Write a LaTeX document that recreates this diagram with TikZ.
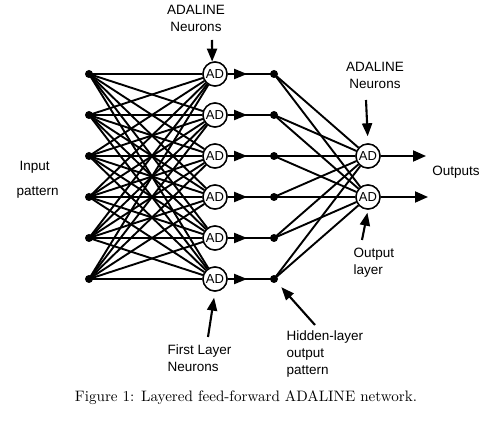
\documentclass[tikz,border=0pt]{standalone}
\usepackage{fontspec}
\newfontfamily\lab{Liberation Sans}
\usetikzlibrary{arrows.meta,decorations.markings}
\begin{document}
\begin{tikzpicture}[x=1pt,y=-1pt,
  conn/.style={line width=1.9pt},
  dotnode/.style={circle,fill=black,inner sep=0pt,minimum size=8pt},
  adnode/.style={circle,draw,line width=1.4pt,fill=white,inner sep=0pt,minimum size=24pt,font=\lab\fontsize{13}{14}\selectfont},
  lbl/.style={font=\lab\fontsize{13.5}{17}\selectfont},
  pointer/.style={line width=2.1pt,-{Triangle[length=13pt,width=10pt]}},
  midarrow/.style={line width=1.9pt,postaction={decorate},decoration={markings,mark=at position 0.42 with {\arrow{Triangle[length=13pt,width=10pt]}}}},
  outarrow/.style={line width=1.9pt,-{Triangle[length=13pt,width=11pt]}}]
\useasboundingbox (0,0) rectangle (490,422);
\foreach \k/\y in {1/74,2/115,3/156,4/197,5/238,6/279}{
  \node[dotnode] (i\k) at (89,\y) {};
  \node[dotnode] (h\k) at (274,\y) {};
}
\foreach \k/\y in {1/74,2/115,3/156,4/197,5/238,6/279}{
  \node[adnode] (ad\k) at (215,\y) {AD};
}
\node[adnode] (o1) at (368,156) {AD};
\node[adnode] (o2) at (368,197) {AD};
% input to first layer
\foreach \a in {1,...,6}{
  \foreach \b in {1,...,6}{
    \draw[conn] (i\a.center) -- (ad\b);
  }
}
% first layer to hidden outputs
\foreach \k in {1,...,6}{
  \draw[midarrow] (ad\k) -- (h\k.center);
}
% hidden to output layer
\foreach \k in {1,...,6}{
  \draw[conn] (h\k.center) -- (o1);
  \draw[conn] (h\k.center) -- (o2);
}
% redraw circles on top
\foreach \k/\y in {1/74,2/115,3/156,4/197,5/238,6/279}{
  \node[adnode] at (215,\y) {AD};
}
\node[adnode] at (368,156) {AD};
\node[adnode] at (368,197) {AD};
% outputs
\coordinate (e1) at (426,156);
\coordinate (e2) at (428,197);
\draw[outarrow] (o1) -- (e1);
\draw[outarrow] (o2) -- (e2);
\node[lbl] (outs) at (456,172) {Outputs};
% labels and pointers
\node[lbl,align=center] (topl) at (196,18.5) {ADALINE\\Neurons};
\coordinate (t1) at (212,40);
\draw[pointer] (t1) -- (ad1.103);
\node[lbl,align=center] (rightl) at (375,75) {ADALINE\\Neurons};
\coordinate (t2) at (366,100);
\draw[pointer,shorten >=7pt] (t2) -- (o1.north);
\node[lbl,anchor=west,align=left] (outl) at (350,263) {Output\\layer};
\coordinate (t3) at (362,240);
\draw[pointer,shorten >=3pt] (t3) -- (o2.south);
\node[lbl,anchor=west] (inl) at (16,167) {Input};
\node[lbl,anchor=west] (patl) at (13,193) {pattern};
\node[lbl,anchor=west,align=left] (firstl) at (164,358) {First Layer\\Neurons};
\coordinate (t4) at (208,337);
\draw[pointer,shorten >=6pt] (t4) -- (ad6.south);
\node[lbl,anchor=west,align=left] (hidl) at (283,354) {Hidden-layer\\output\\pattern};
\coordinate (t5) at (315,325);
\draw[pointer,shorten >=11pt] (t5) -- (h6.center);
\node (cap) at (246,398) {\resizebox{342pt}{!}{Figure 1: Layered feed-forward ADALINE network.}};
\end{tikzpicture}
\end{document}
